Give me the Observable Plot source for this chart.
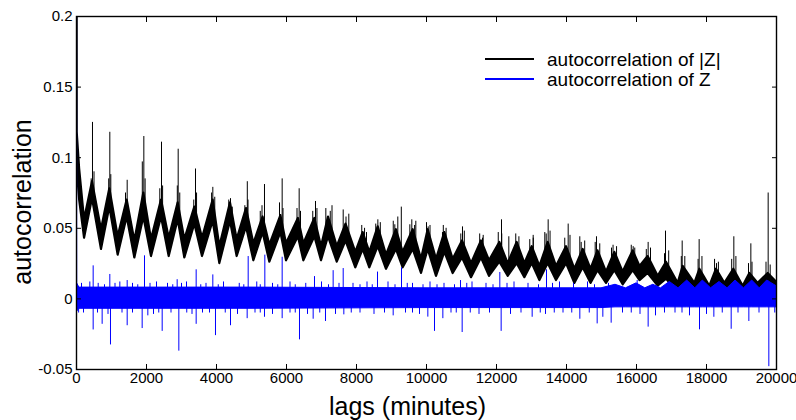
<!DOCTYPE html>
<html>
<head>
<meta charset="utf-8">
<script src="https://cdn.jsdelivr.net/npm/d3@7"></script>
<script src="https://cdn.jsdelivr.net/npm/@observablehq/plot@0.6"></script>
<style>
  body { margin: 0; background: #fff; }
  #wrap { position: relative; width: 796px; height: 420px; overflow: hidden; }
  #legend { position: absolute; left: 0; top: 0; pointer-events: none; }
</style>
</head>
<body>
<div id="wrap"></div>
<script>
// ---- data ----
const xTicks = [0, 2000, 4000, 6000, 8000, 10000, 12000, 14000, 16000, 18000, 20000];
const yTicks = [-0.05, 0, 0.05, 0.1, 0.15, 0.2];
const seriesNames = ["autocorrelation of |Z|", "autocorrelation of Z"];
const xLabel = "lags (minutes)";
const yLabel = "autocorrelation";

// |Z| autocorrelation: [lag, band low, band high] at peaks and troughs of the daily cycle
const absBand = [
  [0, 0.100, 1.0], [20, 0.092, 0.118], [90, 0.070, 0.092], [230, 0.043, 0.056],
  [457, 0.071, 0.083], [714, 0.035, 0.049], [952, 0.065, 0.078], [1190, 0.031, 0.044],
  [1448, 0.058, 0.070], [1667, 0.029, 0.041], [1924, 0.058, 0.075], [2143, 0.030, 0.042],
  [2429, 0.058, 0.070], [2648, 0.030, 0.043], [2905, 0.056, 0.068], [3095, 0.029, 0.042],
  [3381, 0.053, 0.065], [3600, 0.030, 0.043], [3905, 0.055, 0.070], [4095, 0.025, 0.037],
  [4400, 0.055, 0.068], [4590, 0.030, 0.042], [4857, 0.051, 0.064], [5067, 0.027, 0.039],
  [5330, 0.047, 0.058], [5524, 0.026, 0.038], [5840, 0.047, 0.059], [6000, 0.027, 0.039],
  [6340, 0.044, 0.057], [6495, 0.027, 0.039], [6810, 0.044, 0.057], [7000, 0.027, 0.037],
  [7200, 0.044, 0.058], [7450, 0.026, 0.037], [7700, 0.041, 0.053], [7980, 0.022, 0.033],
  [8190, 0.035, 0.047], [8380, 0.022, 0.033], [8620, 0.037, 0.051], [8857, 0.021, 0.031],
  [9140, 0.035, 0.049], [9333, 0.022, 0.033], [9620, 0.035, 0.049], [9857, 0.018, 0.028],
  [10048, 0.035, 0.049], [10286, 0.016, 0.028], [10524, 0.033, 0.047], [10762, 0.018, 0.028],
  [11029, 0.029, 0.041], [11286, 0.015, 0.025], [11571, 0.029, 0.041], [11800, 0.016, 0.027],
  [12095, 0.026, 0.040], [12333, 0.016, 0.025], [12590, 0.025, 0.040], [12810, 0.015, 0.025],
  [13020, 0.025, 0.037], [13240, 0.013, 0.023], [13476, 0.025, 0.040], [13714, 0.013, 0.023],
  [14000, 0.025, 0.037], [14238, 0.011, 0.021], [14476, 0.022, 0.035], [14700, 0.011, 0.021],
  [14900, 0.020, 0.034], [15143, 0.011, 0.019], [15381, 0.020, 0.033], [15619, 0.010, 0.019],
  [15905, 0.020, 0.034], [16100, 0.013, 0.023], [16333, 0.018, 0.030], [16619, 0.009, 0.016],
  [16857, 0.014, 0.026], [17190, 0.004, 0.011], [17333, 0.011, 0.023], [17667, 0.004, 0.011],
  [17810, 0.010, 0.021], [18095, 0.003, 0.009], [18286, 0.010, 0.021], [18524, 0.003, 0.011],
  [18780, 0.008, 0.021], [19048, 0.002, 0.009], [19238, 0.006, 0.018], [19476, 0.003, 0.011],
  [19762, 0.006, 0.018], [20000, 0.002, 0.012]
];
// |Z| autocorrelation spikes: [lag, value]
const absSpikes = [
  [420, 0.085], [457, 0.125], [920, 0.085], [952, 0.118], [1448, 0.084], [1880, 0.097],
  [1924, 0.115], [2429, 0.111], [2880, 0.080], [2905, 0.106], [3400, 0.092], [3895, 0.079],
  [4400, 0.071], [4810, 0.066], [4880, 0.083], [5371, 0.081], [5876, 0.085], [6362, 0.078],
  [6829, 0.069], [7124, 0.064], [7620, 0.063], [8286, 0.047], [8610, 0.056], [9095, 0.0525],
  [9280, 0.065], [9524, 0.0525], [9695, 0.055], [10048, 0.051], [10457, 0.047], [11029, 0.051],
  [11600, 0.043], [12143, 0.056], [12352, 0.044], [13048, 0.045], [13380, 0.047], [13476, 0.056],
  [14048, 0.053], [14380, 0.044], [14857, 0.044], [15286, 0.036], [15905, 0.037], [16333, 0.040],
  [16829, 0.048], [17305, 0.041], [17790, 0.042], [18286, 0.025], [18781, 0.044], [19267, 0.039],
  [19762, 0.075]
];
// |Z| autocorrelation smaller hairs above the band: [lag, value]
const absFuzz = [
  [500, 0.090], [980, 0.088], [1400, 0.075], [1960, 0.085], [2380, 0.078], [2460, 0.080],
  [2950, 0.075], [3350, 0.070], [3430, 0.075], [3860, 0.075], [3950, 0.072], [4350, 0.070],
  [4450, 0.065], [4900, 0.070], [5250, 0.062], [5300, 0.066], [5800, 0.068], [5900, 0.064],
  [6300, 0.064], [6400, 0.062], [6750, 0.062], [6870, 0.064], [7250, 0.062], [7300, 0.066],
  [7700, 0.058], [7780, 0.060], [8150, 0.052], [8230, 0.050], [8550, 0.053], [8680, 0.054],
  [9050, 0.055], [9180, 0.058], [9580, 0.056], [9660, 0.052], [10000, 0.054], [10100, 0.052],
  [10480, 0.052], [10560, 0.050], [10980, 0.046], [11080, 0.048], [11520, 0.046], [11620, 0.045],
  [12050, 0.047], [12150, 0.046], [12550, 0.046], [12640, 0.044], [12950, 0.042], [13050, 0.043],
  [13420, 0.046], [13530, 0.048], [13950, 0.043], [14100, 0.045], [14420, 0.040], [14520, 0.041],
  [14820, 0.040], [14950, 0.039], [15330, 0.038], [15430, 0.037], [15850, 0.038], [15950, 0.036],
  [16280, 0.035], [16400, 0.036], [16800, 0.032], [16920, 0.034], [17280, 0.030], [17380, 0.030],
  [17760, 0.028], [17870, 0.030], [18230, 0.028], [18340, 0.026], [18720, 0.028], [18840, 0.030],
  [19200, 0.025], [19300, 0.026], [19700, 0.026], [19820, 0.024]
];

// Z autocorrelation: [lag, band low, band high]
const zBand = [
  [0, -0.006, 1.0], [20, -0.009, 0.011], [80, -0.007, 0.008], [5000, -0.007, 0.008],
  [10000, -0.0065, 0.0075], [15000, -0.0065, 0.0075], [15400, -0.006, 0.010], [15700, -0.006, 0.0075],
  [16000, -0.006, 0.011], [16250, -0.006, 0.0075], [16480, -0.006, 0.010], [16700, -0.006, 0.0075],
  [16950, -0.006, 0.012], [17200, -0.006, 0.0075], [17448, -0.006, 0.013], [17680, -0.006, 0.0075],
  [17895, -0.006, 0.013], [18130, -0.006, 0.0075], [18371, -0.006, 0.012], [18600, -0.006, 0.0075],
  [18829, -0.006, 0.013], [19070, -0.006, 0.0075], [19305, -0.006, 0.013], [19520, -0.006, 0.0075],
  [19733, -0.006, 0.013], [20000, -0.006, 0.009]
];
// Z autocorrelation spikes: [lag, value]
const zSpikes = [
  [476, 0.0234], [952, 0.0173], [1448, 0.013], [1943, 0.0305], [2876, 0.0136], [3419, 0.0206],
  [3895, 0.017], [4905, 0.030], [5381, 0.031], [5876, 0.0295], [6800, 0.0158], [7333, 0.020],
  [7620, 0.0215], [8600, 0.019], [9286, 0.022], [10971, 0.013], [12095, 0.0187], [13429, 0.0206],
  [16019, 0.013], [19752, 0.013],
  [476, -0.022], [733, -0.018], [971, -0.0326], [1448, -0.019], [1876, -0.021], [2038, -0.012],
  [2448, -0.023], [2924, -0.037], [3419, -0.018], [3971, -0.026], [4400, -0.019], [4876, -0.014],
  [5371, -0.013], [5876, -0.014], [6371, -0.029], [6762, -0.0144], [7114, -0.016], [7638, -0.0113],
  [9048, -0.012], [10038, -0.0129], [10229, -0.023], [10467, -0.014], [11019, -0.0238], [12133, -0.023],
  [13019, -0.013], [14381, -0.0144], [14876, -0.0177], [15038, -0.013], [15276, -0.0172], [16333, -0.020],
  [16543, -0.012], [17514, -0.012], [17800, -0.0219], [18210, -0.013], [18705, -0.0215], [19210, -0.016],
  [19781, -0.048]
];
// Z autocorrelation ragged edge hairs: [lag, value]
const zFuzz = [
  [143, 0.011], [381, 0.012], [620, 0.011], [800, 0.010], [1100, 0.011], [1238, 0.012], [1600, 0.011],
  [1750, 0.010], [2100, 0.011], [2286, 0.012], [2600, 0.011], [2750, 0.010], [3000, 0.011], [3143, 0.012],
  [3550, 0.010], [3700, 0.011], [4050, 0.010], [4200, 0.012], [4650, 0.011], [4780, 0.010], [5150, 0.012],
  [5250, 0.010], [5600, 0.011], [5750, 0.010], [6100, 0.012], [6250, 0.010], [6550, 0.011], [7000, 0.012],
  [7200, 0.010], [7500, 0.011], [7900, 0.011], [8100, 0.010], [8300, 0.012], [8450, 0.010], [8900, 0.012],
  [9100, 0.010], [9450, 0.011], [9600, 0.011], [9900, 0.010], [10100, 0.012], [10300, 0.010], [10500, 0.011],
  [10800, 0.010], [11150, 0.011], [11300, 0.012], [11700, 0.011], [11900, 0.010], [12300, 0.011], [12500, 0.012],
  [12900, 0.011], [13200, 0.010], [13600, 0.011], [13800, 0.012], [14200, 0.011], [14600, 0.012], [14800, 0.010],
  [15200, 0.011],
  [60, -0.010], [200, -0.010], [600, -0.010], [900, -0.011], [1300, -0.010], [1600, -0.010], [2200, -0.011],
  [2350, -0.010], [2700, -0.010], [3150, -0.010], [3300, -0.011], [3600, -0.010], [3800, -0.010], [4250, -0.010],
  [4600, -0.011], [5100, -0.010], [5250, -0.010], [5600, -0.011], [6100, -0.010], [6250, -0.010], [6600, -0.011],
  [6950, -0.010], [7400, -0.011], [7850, -0.010], [8100, -0.010], [8500, -0.011], [8800, -0.010], [9400, -0.010],
  [9600, -0.010], [9800, -0.011], [10700, -0.010], [10850, -0.010], [11250, -0.010], [11500, -0.011], [11800, -0.010],
  [12400, -0.011], [12700, -0.010], [13250, -0.010], [13400, -0.011], [13650, -0.010], [13900, -0.010], [14150, -0.010],
  [14650, -0.010], [15600, -0.010], [15850, -0.010], [16100, -0.011], [16800, -0.010], [17100, -0.010], [17300, -0.010],
  [18000, -0.011], [18450, -0.010], [18900, -0.010], [19500, -0.010], [19950, -0.010]
];

// ---- build tables ----
const absTable = absBand.map(([lag, lo, hi]) => ({lag, lo, hi}));
const zTable = zBand.map(([lag, lo, hi]) => ({lag, lo, hi}));
const bis = d3.bisector(d => d.lag).left;
function bandMid(table, lag) {
  const i = Math.min(Math.max(bis(table, lag), 1), table.length - 1);
  const a = table[i - 1], b = table[i];
  const t = (lag - a.lag) / (b.lag - a.lag);
  return ((a.lo + a.hi) / 2) * (1 - t) + ((b.lo + b.hi) / 2) * t;
}
const absSpikeTable = absSpikes.concat(absFuzz).map(([lag, v]) => ({lag, v, base: bandMid(absTable, lag)}));
const zSpikeTable = zSpikes.concat(zFuzz).map(([lag, v]) => ({lag, v, base: 0}));

const font = "'Liberation Sans', Arial, Helvetica, sans-serif";

const chart = Plot.plot({
  width: 796,
  height: 420,
  marginLeft: 76,
  marginRight: 20,
  marginTop: 16,
  marginBottom: 51,
  style: {fontFamily: font, fontSize: "15px", color: "#000", background: "#fff", overflow: "visible"},
  x: {domain: [0, 20000], ticks: xTicks},
  y: {domain: [-0.05, 0.2], ticks: yTicks},
  marks: [
    Plot.areaY(absTable, {x: "lag", y1: "lo", y2: "hi", fill: "#000", stroke: "#000", strokeWidth: 2.2, strokeLinejoin: "round", clip: true}),
    Plot.ruleX(absSpikeTable, {x: "lag", y1: "base", y2: "v", stroke: "#000", strokeWidth: 1, clip: true}),
    Plot.areaY(zTable, {x: "lag", y1: "lo", y2: "hi", fill: "#0000ff", stroke: "#0000ff", strokeWidth: 1, clip: true}),
    Plot.ruleX(zSpikeTable, {x: "lag", y1: "base", y2: "v", stroke: "#0000ff", strokeWidth: 1, clip: true}),
    Plot.frame({stroke: "#000", strokeWidth: 1.4}),
    Plot.axisX({anchor: "bottom", ticks: xTicks, tickSize: -5, tickPadding: 8, tickFormat: d => String(d), label: null}),
    Plot.axisX({anchor: "top", ticks: xTicks, tickSize: -5, tickFormat: () => "", label: null}),
    Plot.axisY({anchor: "left", ticks: yTicks, tickSize: -5, tickPadding: 9, tickFormat: d => String(d), label: null}),
    Plot.axisY({anchor: "right", ticks: yTicks, tickSize: -5, tickFormat: () => "", label: null}),
    Plot.text([xLabel], {text: d => d, frameAnchor: "bottom", textAnchor: "middle", dx: -19, dy: 45, fontSize: 25}),
    Plot.text([yLabel], {text: d => d, frameAnchor: "left", textAnchor: "middle", lineAnchor: "middle", rotate: -90, dx: -54, dy: 9, fontSize: 25})
  ]
});

const wrap = document.getElementById("wrap");
wrap.appendChild(chart);

// legend (inside the axes, top right)
const colors = ["#000000", "#0000ff"];
const ns = "http://www.w3.org/2000/svg";
const leg = document.createElementNS(ns, "svg");
leg.setAttribute("id", "legend");
leg.setAttribute("width", 796);
leg.setAttribute("height", 420);
seriesNames.forEach((name, i) => {
  const y = 59 + i * 20;
  const ln = document.createElementNS(ns, "line");
  ln.setAttribute("x1", 485); ln.setAttribute("x2", 534);
  ln.setAttribute("y1", y); ln.setAttribute("y2", y);
  ln.setAttribute("stroke", colors[i]); ln.setAttribute("stroke-width", 1.8);
  leg.appendChild(ln);
  const tx = document.createElementNS(ns, "text");
  tx.setAttribute("x", 547); tx.setAttribute("y", y + 7);
  tx.setAttribute("font-family", font); tx.setAttribute("font-size", 19);
  tx.setAttribute("fill", "#000");
  tx.textContent = name;
  leg.appendChild(tx);
});
wrap.appendChild(leg);
</script>
</body>
</html>
